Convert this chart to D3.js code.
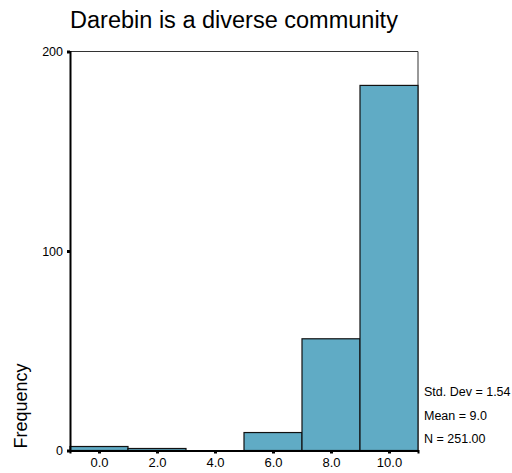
<!DOCTYPE html>
<html><head><meta charset="utf-8">
<script src="https://cdn.jsdelivr.net/npm/d3@7"></script>
<style>body{margin:0;background:#fff}svg{display:block}text{font-family:"Liberation Sans",Arial,sans-serif}</style>
</head><body>
<svg id="c" width="512" height="473"></svg>
<script>
const binCenters = [0, 2, 4, 6, 8, 10];
const counts = [2, 1, 0, 9, 56, 183];
const yTicks = [0, 100, 200];
const xTickLabels = ["0.0", "2.0", "4.0", "6.0", "8.0", "10.0"];
const stats = ["Std. Dev = 1.54", "Mean = 9.0", "N = 251.00"];
const title = "Darebin is a diverse community";

const svg = d3.select("#c");
const x = d3.scaleLinear().domain([-1, 11]).range([70, 418]);
const y = d3.scaleLinear().domain([0, 200]).range([450.5, 51.5]);

// frame top and right
svg.append("path").attr("d", `M${x(-1)},${y(200)}H${x(11)}V${y(0)}`)
  .attr("fill", "none").attr("stroke", "#333").attr("stroke-width", 1);

// bars
svg.selectAll("rect.bar").data(binCenters).enter().append("rect")
  .attr("x", (d) => x(d - 1))
  .attr("width", (d) => x(d + 1) - x(d - 1))
  .attr("y", (d, i) => y(counts[i]))
  .attr("height", (d, i) => y(0) - y(counts[i]))
  .attr("fill", "#60abc5").attr("stroke", "#111").attr("stroke-width", 1.2);

// y axis
const yAxis = svg.append("g").attr("transform", `translate(${x(-1)},0)`)
  .call(d3.axisLeft(y).tickValues(yTicks).tickFormat(d3.format("d")).tickSize(3).tickPadding(4));
yAxis.select(".domain").attr("stroke", "#000").attr("stroke-width", 2);
yAxis.selectAll(".tick line").attr("stroke", "#000").attr("stroke-width", 3);
yAxis.selectAll(".tick text").attr("font-size", 12.5).attr("fill", "#000");

// x axis
const xAxis = svg.append("g").attr("transform", `translate(0,${y(0)})`)
  .call(d3.axisBottom(x).tickValues(binCenters).tickFormat((d, i) => xTickLabels[i]).tickSize(3).tickPadding(4));
xAxis.select(".domain").attr("stroke", "#000").attr("stroke-width", 2);
xAxis.selectAll(".tick line").attr("stroke", "#000").attr("stroke-width", 3);
xAxis.selectAll(".tick text").attr("font-size", 13).attr("fill", "#000");

// title
svg.append("text").attr("x", 234).attr("y", 28).attr("text-anchor", "middle")
  .attr("font-size", 23.5).attr("fill", "#000").text(title);

// y label
svg.append("text").attr("transform", "translate(27,406) rotate(-90)")
  .attr("text-anchor", "middle").attr("font-size", 18).attr("fill", "#000").text("Frequency");

// stats
svg.selectAll("text.stat").data(stats).enter().append("text")
  .attr("x", 424).attr("y", (d, i) => 396 + i * 23.5)
  .attr("font-size", 12.5).attr("fill", "#000").text((d) => d);
</script>
</body></html>
